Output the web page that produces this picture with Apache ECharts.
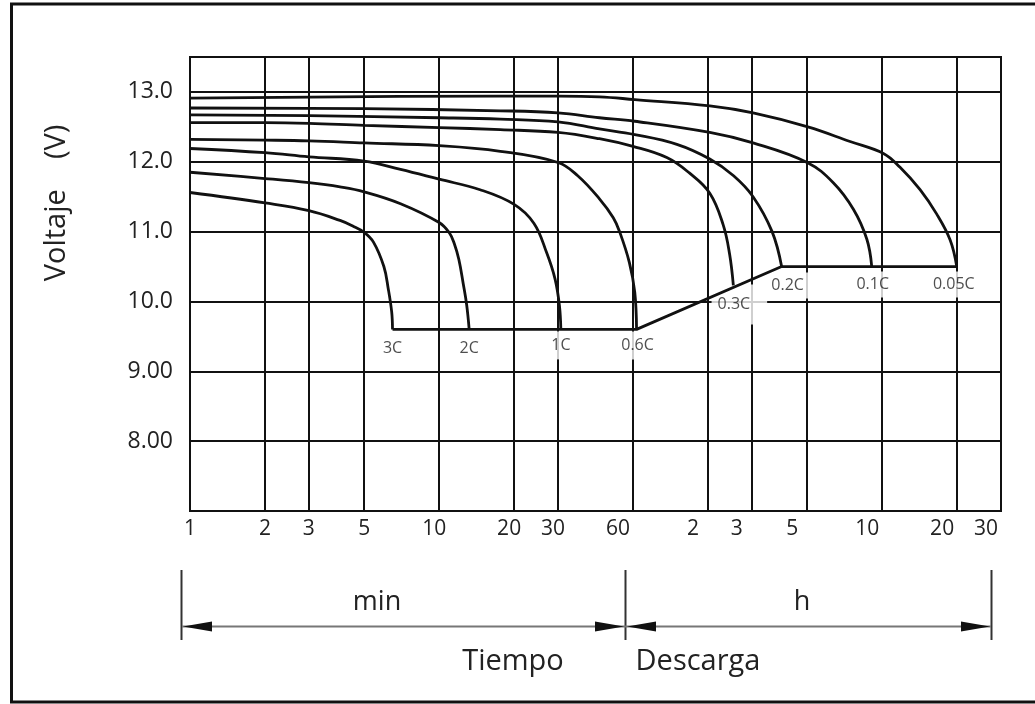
<!DOCTYPE html>
<html>
<head>
<meta charset="utf-8">
<script src="https://cdn.jsdelivr.net/npm/echarts@6/dist/echarts.min.js"></script>
<style>
html, body { margin: 0; padding: 0; background: #fff; }
#chart { width: 1035px; height: 704px; }
</style>
</head>
<body>
<div id="chart"></div>
<script>
// eje X: tiempo de descarga en minutos (escala log), 60+ se rotula en horas
const xTicks = [1, 2, 3, 5, 10, 20, 30, 60, 120, 180, 300, 600, 1200, 1800]
const yTicks = [8, 9, 10, 11, 12, 13]
const yTickLabels = ['8.00', '9.00', '10.0', '11.0', '12.0', '13.0']

// curvas de descarga (t en min, V)
const t3C = [1, 2, 3, 4, 4.5, 5, 5.45, 6, 6.25, 6.45, 6.5]
const v3C = [11.56, 11.41, 11.3, 11.16, 11.08, 10.99, 10.85, 10.5, 10.18, 9.85, 9.6]
const t2C = [1, 2, 3, 4, 5, 7, 10, 11, 11.5, 12, 12.5, 12.9, 13.2]
const v2C = [11.85, 11.76, 11.7, 11.64, 11.57, 11.4, 11.13, 10.98, 10.83, 10.6, 10.25, 9.95, 9.6]
const t1C = [1, 2, 3, 5, 7, 10, 14.6, 20, 24, 27, 29.2, 30.4, 30.8]
const v1C = [12.19, 12.13, 12.07, 12.01, 11.89, 11.75, 11.6, 11.39, 11.12, 10.7, 10.32, 9.94, 9.6]
const t06C = [1, 2, 3, 5, 10, 17.6, 30, 36, 44, 50, 53, 58, 61, 62]
const v06C = [12.32, 12.31, 12.3, 12.27, 12.23, 12.15, 11.99, 11.8, 11.47, 11.2, 11.0, 10.56, 10.13, 9.6]
const t03C = [1, 2, 3, 5, 10, 17.6, 30, 44, 60, 82, 101, 122, 138, 146.5, 151.7]
const v03C = [12.56, 12.56, 12.55, 12.52, 12.49, 12.46, 12.42, 12.33, 12.22, 12.06, 11.84, 11.55, 11.1, 10.68, 10.23]
const t02C = [1, 3, 10, 17.6, 30, 44, 61, 90, 122, 152, 182, 217, 237]
const v02C = [12.67, 12.66, 12.63, 12.61, 12.57, 12.47, 12.39, 12.25, 12.04, 11.8, 11.5, 11.0, 10.5]
const t01C = [1, 5, 17.6, 30, 44, 61, 122, 182, 300, 382, 460, 521, 545]
const v01C = [12.77, 12.76, 12.73, 12.7, 12.63, 12.58, 12.42, 12.27, 11.99, 11.7, 11.32, 10.89, 10.5]
const t005C = [1, 17.6, 30, 44, 61, 122, 182, 302, 446, 607, 708, 852, 994, 1125, 1196]
const v005C = [12.91, 12.94, 12.94, 12.93, 12.89, 12.8, 12.7, 12.5, 12.29, 12.12, 11.92, 11.6, 11.25, 10.88, 10.5]

const curves = [
  { name: '3C', t: t3C, v: v3C },
  { name: '2C', t: t2C, v: v2C },
  { name: '1C', t: t1C, v: v1C },
  { name: '0.6C', t: t06C, v: v06C },
  { name: '0.3C', t: t03C, v: v03C },
  { name: '0.2C', t: t02C, v: v02C },
  { name: '0.1C', t: t01C, v: v01C },
  { name: '0.05C', t: t005C, v: v005C }
]

const txt = '#222'
const font = 'Open Sans'

// caja blanca de cada rótulo: [offset, padding]
const labelBox = {
  '3C': [[0, 19], [4, 4]],
  '2C': [[0, 19], [4, 4]],
  '1C': [[0, 16], [6, 4]],
  '0.6C': [[1, 16], [6, 4]],
  '0.3C': [[6, 19], [14, 17, 10, 6]],
  '0.2C': [[6, 19], [5, 6]],
  '0.1C': [[1, 18], [5, 6]],
  '0.05C': [[-3, 18], [5, 4]]
}

const endOf = (c) => [c.t[c.t.length - 1], c.v[c.v.length - 1]]
const byName = (n) => curves.find((c) => c.name === n)

const chart = echarts.init(document.getElementById('chart'))

const option = {
  backgroundColor: '#fff',
  animation: false,
  grid: {
    left: 190,
    right: 34,
    top: 57,
    bottom: 193,
    show: true,
    borderColor: '#111',
    borderWidth: 2,
    backgroundColor: '#fff'
  },
  xAxis: {
    type: 'log',
    logBase: 10,
    min: 1,
    max: 1800,
    axisLine: { show: false },
    axisTick: { show: false, customValues: xTicks },
    splitLine: { show: true, lineStyle: { color: '#111', width: 2 } },
    axisLabel: {
      customValues: xTicks,
      margin: 8,
      color: txt,
      fontSize: 21,
      fontFamily: font,
      formatter: (v) => {
        const s = v <= 60 ? String(v) : String(v / 60)
        if (v >= 60) return '{b|' + s + '}'
        if (v >= 10) return '{a|' + s + '}'
        return s
      },
      rich: {
        a: { padding: [0, 10, 0, 0] },
        b: { padding: [0, 30, 0, 0] }
      }
    }
  },
  yAxis: {
    type: 'value',
    min: 7,
    max: 13.5,
    interval: 1,
    axisLine: { show: false },
    axisTick: { show: false },
    splitLine: { show: true, lineStyle: { color: '#111', width: 2 } },
    axisLabel: {
      margin: 17,
      color: txt,
      fontSize: 23,
      fontFamily: font,
      formatter: (v) => {
        const i = yTicks.indexOf(v)
        return i < 0 ? '' : yTickLabels[i]
      }
    }
  },
  series: [
    ...curves.map((c) => ({
      name: c.name,
      type: 'line',
      z: 3,
      silent: true,
      symbol: 'none',
      smooth: 0.4,
      lineStyle: { color: '#111', width: 2.8 },
      data: c.t.map((x, i) => [x, c.v[i]])
    })),
    {
      // tensión final de corte
      name: 'corte',
      type: 'line',
      z: 3,
      silent: true,
      symbol: 'none',
      lineStyle: { color: '#111', width: 2.8 },
      data: [endOf(byName('3C')), endOf(byName('0.6C')), endOf(byName('0.2C')), endOf(byName('0.05C'))]
    },
    {
      name: 'rotulos',
      type: 'scatter',
      z: 1,
      silent: true,
      symbolSize: 1,
      itemStyle: { color: 'rgba(0,0,0,0)' },
      label: {
        show: true,
        position: 'inside',
        formatter: (p) => p.name,
        color: txt,
        fontSize: 16,
        fontFamily: font,
        backgroundColor: '#fff'
      },
      data: curves.map((c) => ({
        name: c.name,
        value: endOf(c),
        label: { offset: labelBox[c.name][0], padding: labelBox[c.name][1] }
      }))
    }
  ],
  graphic: [
    {
      type: 'rect',
      silent: true,
      shape: { x: 11.5, y: 4, width: 1100, height: 698 },
      style: { fill: 'none', stroke: '#111', lineWidth: 3 }
    },
    {
      type: 'text',
      silent: true,
      x: 57,
      y: 203,
      rotation: Math.PI / 2,
      style: { text: 'Voltaje    (V)', fill: txt, fontSize: 29, fontFamily: font, align: 'center', verticalAlign: 'middle' }
    },
    { type: 'line', silent: true, shape: { x1: 181.5, y1: 570, x2: 181.5, y2: 640 }, style: { stroke: '#333', lineWidth: 2 } },
    { type: 'line', silent: true, shape: { x1: 625.5, y1: 570, x2: 625.5, y2: 640 }, style: { stroke: '#333', lineWidth: 2 } },
    { type: 'line', silent: true, shape: { x1: 991.5, y1: 570, x2: 991.5, y2: 640 }, style: { stroke: '#333', lineWidth: 2 } },
    { type: 'line', silent: true, shape: { x1: 182, y1: 626.5, x2: 991, y2: 626.5 }, style: { stroke: '#777', lineWidth: 2 } },
    { type: 'polygon', silent: true, shape: { points: [[183, 626.5], [212, 621.5], [212, 631.5]] }, style: { fill: '#111' } },
    { type: 'polygon', silent: true, shape: { points: [[624, 626.5], [595, 621.5], [595, 631.5]] }, style: { fill: '#111' } },
    { type: 'polygon', silent: true, shape: { points: [[627, 626.5], [656, 621.5], [656, 631.5]] }, style: { fill: '#111' } },
    { type: 'polygon', silent: true, shape: { points: [[990, 626.5], [961, 621.5], [961, 631.5]] }, style: { fill: '#111' } },
    { type: 'text', silent: true, x: 377, y: 602, style: { text: 'min', fill: txt, fontSize: 27, fontFamily: font, align: 'center', verticalAlign: 'middle' } },
    { type: 'text', silent: true, x: 802, y: 602, style: { text: 'h', fill: txt, fontSize: 27, fontFamily: font, align: 'center', verticalAlign: 'middle' } },
    { type: 'text', silent: true, x: 513, y: 662, style: { text: 'Tiempo', fill: txt, fontSize: 29, fontFamily: font, align: 'center', verticalAlign: 'middle' } },
    { type: 'text', silent: true, x: 698, y: 662, style: { text: 'Descarga', fill: txt, fontSize: 29, fontFamily: font, align: 'center', verticalAlign: 'middle' } }
  ]
}

chart.setOption(option)
</script>
</body>
</html>
